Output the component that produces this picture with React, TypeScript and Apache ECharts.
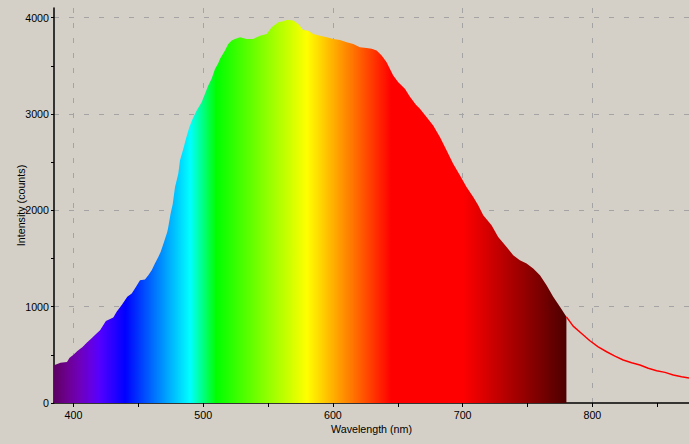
import React, { useEffect, useRef } from "react";
import * as echarts from "echarts";

// Spectrum (filled, coloured by wavelength) — wavelength (nm)
const fillWavelengths = [
  385, 390, 395, 397, 400, 403, 407, 410, 414, 418,
  420.5, 425, 430.7, 433.3, 437.2, 441.5, 444.9, 447.4, 451.3, 455.1,
  457.7, 460.3, 462.8, 465.4, 467.2, 469.8, 472.3, 473.1, 474.9, 476.5,
  478.3, 480.8, 482.1, 484.7, 486.7, 489.3, 491.9, 495, 498.8, 501.4,
  503.9, 506.5, 509.1, 511.6, 513, 516.8, 519.3, 522, 524.5, 528.4,
  533.5, 538.6, 543.8, 548.9, 552.8, 557.9, 561.7, 564.8, 569.4, 573.3,
  577.1, 581, 584.8, 590, 595.2, 600.3, 605.4, 610.6, 615.7, 620.8,
  626, 629.9, 633.7, 637.6, 641.4, 646.5, 650.4, 655.5, 659.4, 664,
  667.1, 672, 677.3, 682.5, 687.7, 692.7, 697.9, 703, 708.2, 712,
  715.9, 722.3, 727.4, 733.9, 739, 744.1, 749.3, 754.4, 759.6, 764.7,
  769.8, 775, 780,
];
// Intensity (counts)
const fillIntensity = [
  392, 418, 425, 470, 500, 541, 580, 622, 672, 725,
  756, 850, 888, 946, 1016, 1102, 1137, 1188, 1275, 1282,
  1326, 1378, 1447, 1516, 1568, 1672, 1775, 1827, 1966, 2062,
  2241, 2380, 2518, 2639, 2743, 2863, 2950, 3036, 3122, 3209,
  3295, 3365, 3468, 3526, 3572, 3658, 3727, 3762, 3779, 3796,
  3779, 3779, 3813, 3831, 3900, 3951, 3962, 3979, 3969, 3935,
  3872, 3865, 3831, 3813, 3796, 3779, 3769, 3744, 3727, 3692,
  3686, 3676, 3658, 3606, 3537, 3399, 3330, 3261, 3180, 3095,
  3054, 2970, 2881, 2760, 2622, 2484, 2363, 2241, 2138, 2052,
  1948, 1845, 1724, 1620, 1534, 1482, 1447, 1396, 1326, 1223,
  1102, 998, 894,
];

// Tail beyond the visible range (red line)
const tailWavelengths = [780, 785.2, 791.7, 798.1, 804.5, 811, 817.4, 823.8, 830.3, 836.7, 843.1, 849.6, 856, 862.4, 868.8, 874.5];
const tailIntensity = [894, 798, 722, 646, 583, 532, 487, 446, 418, 394, 360, 335, 318, 290, 272, 259];

const xTickValues = [400, 450, 500, 550, 600, 650, 700, 750, 800, 850];
const xLabelValues = [400, 500, 600, 700, 800];
const xGridValues = [400, 500, 600, 700, 800];
const yTickValues = [0, 500, 1000, 1500, 2000, 2500, 3000, 3500, 4000];
const yLabelValues = [0, 1000, 2000, 3000, 4000];
const yGridValues = [1000, 2000, 3000, 4000];

const X_MIN = 385;
const X_MAX = 874.5;
const Y_MAX = 4100;
const FILL_START = 385;
const FILL_END = 780;

function spectrumColor(w: number): string {
  let r = 0, g = 0, b = 0;
  if (w < 440) { r = -(w - 440) / 60; b = 1; }
  else if (w < 490) { g = (w - 440) / 50; b = 1; }
  else if (w < 510) { g = 1; b = -(w - 510) / 20; }
  else if (w < 580) { r = (w - 510) / 70; g = 1; }
  else if (w < 645) { r = 1; g = -(w - 645) / 65; }
  else { r = 1; }
  let f = 1;
  if (w < 420) f = 0.3 + (0.7 * (w - 380)) / 40;
  else if (w > 700) f = 0.3 + (0.7 * (780 - w)) / 80;
  const c = (v: number) => Math.max(0, Math.min(255, Math.round(255 * v * f)));
  return `rgb(${c(r)},${c(g)},${c(b)})`;
}

export default function App() {
  const ref = useRef<HTMLDivElement>(null);
  useEffect(() => {
    if (!ref.current) return;
    const chart = echarts.init(ref.current, null, { renderer: "svg" });
    const stops: { offset: number; color: string }[] = [];
    for (let w = FILL_START; w <= FILL_END; w += 2.5) {
      stops.push({ offset: (w - FILL_START) / (FILL_END - FILL_START), color: spectrumColor(w) });
    }
    const font = { fontFamily: "Liberation Sans", fontSize: 10.7, color: "#000" };
    const fmt = (v: number) => String(Math.round(v));
    const gridLine = { show: true, lineStyle: { color: "#a4a4a4", width: 1, type: [5, 10] as any } };
    const option: any = {
      animation: false,
      backgroundColor: "#d4d0c8",
      grid: { left: 54, top: 8, right: 0, bottom: 41, containLabel: false, outerBoundsMode: "none" },
      xAxis: [
        {
          type: "value", min: X_MIN, max: X_MAX, position: "bottom",
          name: "Wavelength (nm)", nameLocation: "middle", nameGap: 20, nameMoveOverlap: false,
          nameTextStyle: { ...font },
          axisLine: { show: true, onZero: false, lineStyle: { color: "#000", width: 1.5 } },
          axisTick: { show: true, length: 4, customValues: xTickValues, lineStyle: { color: "#000", width: 1 } },
          axisLabel: { show: true, customValues: xLabelValues, margin: 6, formatter: fmt, ...font },
          splitLine: { show: false },
        },
        {
          type: "value", min: X_MIN, max: X_MAX, position: "top",
          axisLine: { show: false }, axisLabel: { show: false },
          axisTick: { show: false, customValues: xGridValues },
          splitLine: gridLine,
        },
      ],
      yAxis: [
        {
          type: "value", min: 0, max: Y_MAX, position: "left",
          name: "Intensity (counts)", nameLocation: "middle", nameGap: 28, nameMoveOverlap: false,
          nameTextStyle: { ...font },
          axisLine: { show: true, onZero: false, lineStyle: { color: "#000", width: 1.5 } },
          axisTick: { show: true, length: 3, customValues: yTickValues, lineStyle: { color: "#000", width: 1 } },
          axisLabel: { show: true, customValues: yLabelValues, margin: 5, formatter: fmt, ...font },
          splitLine: { show: false },
        },
        {
          type: "value", min: 0, max: Y_MAX, position: "right",
          axisLine: { show: false }, axisLabel: { show: false },
          axisTick: { show: false, customValues: yGridValues },
          splitLine: gridLine,
        },
      ],
      series: [
        {
          type: "line", xAxisIndex: 0, yAxisIndex: 0,
          data: fillWavelengths.map((w, i) => [w, fillIntensity[i]]),
          showSymbol: false, symbol: "none",
          lineStyle: { width: 0, opacity: 0 },
          areaStyle: { opacity: 1, color: new echarts.graphic.LinearGradient(0, 0, 1, 0, stops) },
          z: 3,
        },
        {
          type: "line", xAxisIndex: 0, yAxisIndex: 0,
          data: tailWavelengths.map((w, i) => [w, tailIntensity[i]]),
          showSymbol: false, symbol: "none",
          lineStyle: { width: 1.5, color: "#ff0000" },
          z: 4,
        },
      ],
    };
    chart.setOption(option);
    return () => chart.dispose();
  }, []);
  return <div ref={ref} style={{ position: "fixed", left: 0, top: 0, width: 689, height: 444 }} />;
}
